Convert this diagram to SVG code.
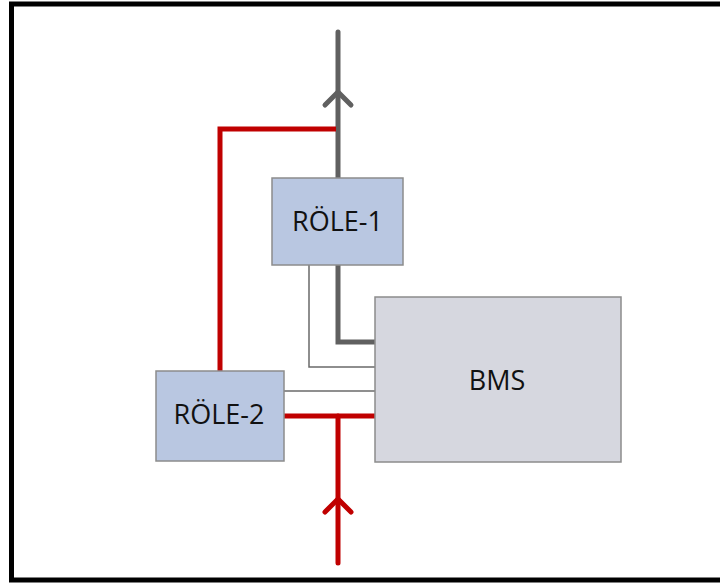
<svg xmlns="http://www.w3.org/2000/svg" width="720" height="583" viewBox="0 0 720 583">
<style>
.frame{fill:#fff;stroke:#000;stroke-width:5}
.role{fill:#b9c7e1;stroke:#8c8c8c;stroke-width:1.5}
.bms{fill:#d6d7df;stroke:#8c8c8c;stroke-width:1.5}
.lbl{font-family:"Open Sans","Liberation Sans",sans-serif;font-size:27px;fill:#111;text-anchor:middle}
.gray{fill:none;stroke:#606060;stroke-width:5;stroke-linecap:round;stroke-linejoin:miter}
.red{fill:none;stroke:#c00000;stroke-width:5;stroke-linecap:round;stroke-linejoin:miter}
.thin{fill:none;stroke:#6a6a6a;stroke-width:1.5}
</style>
<rect class="frame" x="11.5" y="4" width="720" height="576"/>
<g id="connectors">
<path class="gray" d="M338,32 V178"/>
<path class="gray" d="M325,105 L338,92 L351,105"/>
<path class="gray" d="M338,265 V342 H375" style="stroke-linecap:butt"/>
<path class="thin" d="M309,265 V367 H375"/>
<path class="thin" d="M284,391 H375"/>
<path class="red" d="M220,371 V129 H336" style="stroke-linecap:butt"/>
<path class="red" d="M284,416 H375" style="stroke-linecap:butt"/>
<path class="red" d="M338,416 V563"/>
<path class="red" d="M325,512 L338,499 L351,512"/>
</g>
<g id="role1">
<rect class="role" x="272" y="178" width="131" height="87"/>
<text class="lbl" x="337.5" y="231">RÖLE-1</text>
</g>
<g id="role2">
<rect class="role" x="156" y="371" width="128" height="90"/>
<text class="lbl" x="219" y="424">RÖLE-2</text>
</g>
<g id="bms">
<rect class="bms" x="375" y="297" width="246" height="165"/>
<text class="lbl" x="497" y="390">BMS</text>
</g>
</svg>
